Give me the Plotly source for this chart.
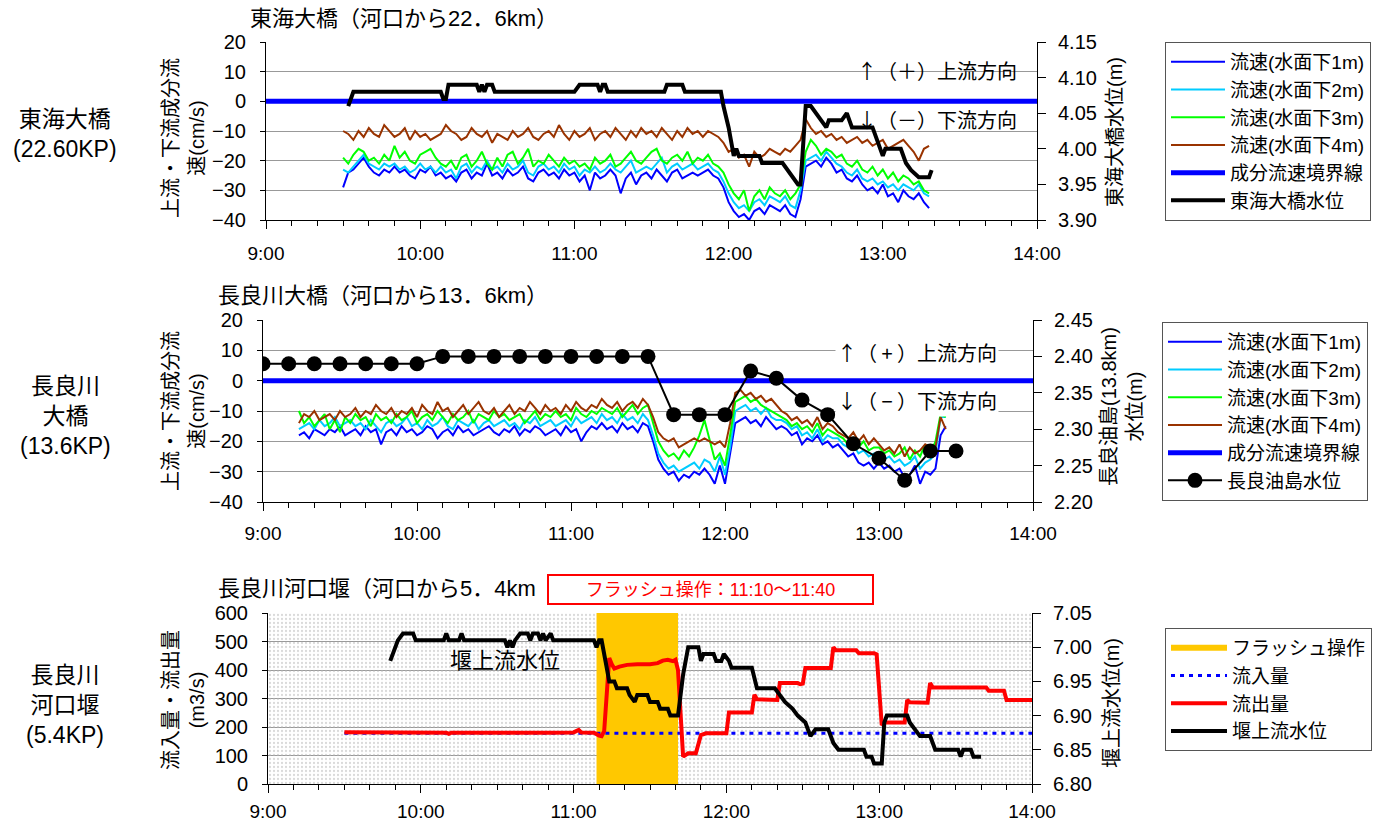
import pandas as pd
import plotly.graph_objects as go

DAY = "2000-01-01 "


def hm(s):
    return DAY + s + ":00"


# ---------------- 東海大橋 (22.6 km) ----------------
tokai_start, tokai_end = "09:30", "13:18"          # 2-minute samples
tokai_v1 = [-29, -24, -23, -21, -19, -22, -24, -25, -23, -24,
            -22, -24, -23, -25, -26, -23, -24, -22, -25, -24,
            -26, -25, -27, -24, -23, -26, -24, -25, -21, -25,
            -24, -26, -23, -25, -24, -22, -26, -27, -24, -23,
            -25, -24, -26, -23, -25, -24, -27, -25, -30, -24,
            -26, -25, -23, -25, -31, -26, -24, -28, -25, -24,
            -26, -23, -25, -27, -24, -23, -26, -25, -24, -25,
            -24, -23, -25, -26,
            -29, -34, -37, -39, -38, -40, -37, -36, -38, -35, -36, -37, -35, -38, -39, -33,
            -22, -21, -20, -22, -19, -21, -24, -23, -26, -27,
            -25, -28, -30, -29, -31, -28, -32, -31, -34, -30,
            -32, -33, -31, -34, -36]
tokai_v2 = [-23, -24, -22, -20, -18, -21, -22, -23, -21, -22,
            -21, -23, -22, -24, -23, -21, -23, -22, -24, -22,
            -24, -23, -26, -22, -21, -24, -22, -23, -20, -23,
            -22, -24, -21, -23, -22, -20, -24, -25, -22, -21,
            -23, -22, -24, -21, -23, -22, -25, -23, -24, -22,
            -24, -23, -21, -23, -24, -22, -20, -24, -23, -22,
            -23, -21, -19, -24, -22, -21, -23, -22, -21, -23,
            -22, -21, -23, -24,
            -27, -31, -34, -36, -35, -37, -34, -33, -35, -32, -33, -34, -32, -35, -36, -30,
            -20, -19, -18, -20, -17, -19, -21, -22, -24, -25,
            -23, -26, -27, -26, -28, -27, -29, -28, -30, -28,
            -29, -30, -28, -31, -32]
tokai_v3 = [-19, -21, -18, -16, -17, -20, -19, -21, -18, -20,
            -15, -19, -17, -20, -21, -18, -17, -16, -19, -21,
            -22, -20, -23, -19, -18, -22, -20, -17, -21, -23,
            -19, -22, -18, -17, -21, -19, -16, -22, -20, -21,
            -18, -20, -22, -19, -21, -20, -22, -21, -23, -19,
            -21, -20, -18, -22, -21, -19, -17, -20, -21, -19,
            -17, -16, -20, -21, -19, -18, -20, -17, -21, -19,
            -20, -18, -21, -22,
            -24, -28, -31, -33, -30, -37, -32, -30, -33, -29, -31, -32, -30, -33, -31, -28,
            -17, -13, -15, -18, -16, -17, -19, -18, -21, -22,
            -20, -23, -24, -22, -25, -23, -26, -24, -27, -25,
            -26, -28, -27, -30, -31]
tokai_v4 = [-10, -11, -13, -10, -12, -9, -11, -12, -8, -10,
            -12, -11, -9, -13, -10, -12, -11, -13, -12, -11,
            -8, -10, -11, -13, -12, -9, -11, -12, -10, -14,
            -11, -12, -13, -10, -12, -11, -9, -12, -13, -11,
            -10, -12, -8, -11, -13, -10, -12, -11, -9, -13,
            -11, -10, -12, -9, -11, -13, -10, -12, -9, -11,
            -10, -12, -9, -11, -13, -10, -12, -9, -11, -10,
            -12, -10, -11, -12,
            -14, -17, -16, -19, -18, -22, -17, -19, -18, -16, -17, -18, -16, -17, -15, -13,
            -6, -9, -11, -10, -12, -11, -13, -12, -14, -13,
            -12, -14, -13, -15, -14, -13, -16, -15, -14, -13,
            -15, -17, -20, -16, -15]
tokai_level_time = ["09:32", "09:34", "10:08", "10:09", "10:10", "10:11", "10:22", "10:23",
                    "10:24", "10:25", "10:26", "10:28", "10:29", "11:00", "11:02", "11:09",
                    "11:10", "11:11", "11:12", "11:13", "11:35", "11:36", "11:42", "11:43",
                    "11:57", "11:58", "12:00", "12:02", "12:03", "12:04", "12:12", "12:13",
                    "12:21", "12:23", "12:25", "12:27", "12:28", "12:29", "12:30", "12:32",
                    "12:34", "12:38", "12:39", "12:44", "12:46", "12:48", "12:56", "13:00",
                    "13:01", "13:07", "13:09", "13:11", "13:14", "13:18", "13:19"]
tokai_level = [4.06, 4.08, 4.08, 4.07, 4.07, 4.09, 4.09, 4.08,
               4.09, 4.08, 4.09, 4.09, 4.08, 4.08, 4.09, 4.09,
               4.08, 4.09, 4.09, 4.08, 4.08, 4.09, 4.09, 4.08,
               4.08, 4.06, 4.03, 3.99, 4.00, 3.99, 3.99, 3.98,
               3.98, 3.97, 3.96, 3.95, 3.95, 4.01, 4.06, 4.06,
               4.05, 4.03, 4.04, 4.04, 4.05, 4.03, 4.03, 3.99,
               4.00, 4.00, 3.98, 3.97, 3.96, 3.96, 3.97]

# ---------------- 長良川大橋 (13.6 km) ----------------
nagara_start, nagara_end = "09:14", "13:26"        # 2-minute samples
nagara_v1 = [-18, -17, -19, -16, -17, -18, -16, -17, -15, -18,
             -17, -16, -18, -15, -17, -16, -21, -17, -16, -18,
             -15, -17, -16, -18, -17, -15, -16, -19, -17, -16,
             -18, -15, -17, -16, -18, -17, -16, -15, -17, -18,
             -16, -17, -15, -18, -16, -17, -15, -16, -18, -17,
             -16, -18, -15, -17, -16, -20, -17, -15, -16, -14,
             -16, -15, -17, -14, -16, -15, -17, -14, -15,
             -20, -26, -29, -31, -30, -33, -31, -32, -30, -31, -29, -31, -34, -28, -34, -24,
             -14, -13, -12, -14, -13, -15, -12, -14, -16,
             -15, -16, -18, -17, -21, -19, -20, -18, -21, -20, -22,
             -21, -23, -25, -24, -27, -28, -27, -29,
             -27, -29, -28, -30, -29, -32, -31, -28, -34, -30, -31,
             -29, -18, -15]
nagara_v2 = [-16, -15, -14, -16, -13, -15, -14, -12, -15, -14,
             -13, -15, -14, -16, -13, -15, -17, -14, -13, -15,
             -14, -12, -15, -14, -16, -13, -15, -14, -12, -15,
             -16, -13, -14, -15, -13, -16, -14, -13, -15, -14,
             -13, -15, -14, -16, -13, -14, -12, -15, -14, -13,
             -15, -14, -13, -15, -12, -14, -13, -12, -14, -11,
             -13, -12, -14, -11, -13, -12, -14, -11, -13,
             -18, -24, -27, -29, -28, -30, -29, -28, -27, -29, -26, -27, -30, -25, -31, -22,
             -10, -9, -8, -10, -9, -11, -9, -12, -13,
             -13, -14, -16, -15, -18, -17, -19, -16, -20, -18, -19,
             -19, -21, -22, -21, -24, -23, -25, -24,
             -24, -26, -25, -27, -26, -28, -27, -25, -29, -27, -26,
             -24, -12, -12]
nagara_v3 = [-10, -14, -12, -15, -13, -11, -16, -13, -17, -12,
             -14, -11, -13, -12, -15, -11, -13, -12, -14, -11,
             -13, -12, -10, -14, -12, -11, -13, -10, -12, -14,
             -11, -13, -12, -10, -14, -11, -12, -13, -10, -12,
             -11, -13, -12, -11, -14, -12, -10, -13, -11, -12,
             -10, -12, -11, -13, -9, -11, -12, -10, -11, -9,
             -10, -11, -9, -12, -10, -8, -11, -9, -8,
             -14, -20, -23, -25, -24, -26, -23, -25, -22, -18, -13, -20, -26, -24, -28, -18,
             -7, -6, -5, -7, -6, -8, -9, -10, -11,
             -12, -13, -15, -14, -16, -15, -17, -14, -18, -16, -17,
             -18, -19, -21, -19, -22, -20, -23, -22,
             -22, -24, -23, -25, -24, -22, -26, -23, -25, -21, -24,
             -20, -11, -12]
nagara_v4 = [-14, -11, -12, -10, -13, -12, -11, -13, -10, -12,
             -11, -9, -12, -10, -11, -8, -10, -11, -9, -12,
             -10, -11, -9, -12, -8, -10, -11, -7, -10, -9,
             -12, -10, -8, -11, -9, -7, -10, -11, -9, -12,
             -10, -8, -11, -9, -10, -7, -9, -11, -8, -10,
             -9, -11, -8, -10, -7, -9, -10, -8, -9, -6,
             -8, -9, -7, -10, -8, -7, -9, -6, -8,
             -12, -17, -19, -20, -19, -22, -21, -20, -19, -20, -19, -20, -21, -20, -22, -14,
             -4, -3, -5, -4, -6, -5, -7, -6, -8,
             -10, -11, -13, -12, -14, -13, -15, -12, -16, -14, -15,
             -17, -18, -19, -17, -20, -18, -21, -19,
             -21, -23, -22, -24, -21, -25, -22, -24, -23, -21, -22,
             -22, -12, -16]
aburajima_time = ["09:00", "09:10", "09:20", "09:30", "09:40", "09:50", "10:00",
                  "10:10", "10:20", "10:30", "10:40", "10:50", "11:00", "11:10",
                  "11:20", "11:30", "11:40", "11:50", "12:00", "12:10", "12:20",
                  "12:30", "12:40", "12:50", "13:00", "13:10", "13:20", "13:30"]
aburajima_level = [2.39, 2.39, 2.39, 2.39, 2.39, 2.39, 2.39,
                   2.40, 2.40, 2.40, 2.40, 2.40, 2.40, 2.40,
                   2.40, 2.40, 2.32, 2.32, 2.32, 2.38, 2.37,
                   2.34, 2.32, 2.28, 2.26, 2.23, 2.27, 2.27]

# ---------------- 長良川河口堰 (5.4 km) ----------------
flash_start, flash_end = "11:09", "11:41"
inflow_time = ["09:30", "14:00"]
inflow = [178, 178]
outflow_time = ["09:30", "09:45", "10:00", "10:10", "10:11", "10:12", "10:30", "10:48",
                "10:50", "10:52", "11:00", "11:02", "11:03", "11:08", "11:10", "11:11",
                "11:12", "11:13", "11:14", "11:15", "11:16", "11:18", "11:21", "11:25",
                "11:30", "11:33", "11:35", "11:37", "11:39", "11:40", "11:41", "11:43",
                "11:45", "11:48", "11:50", "11:52", "12:00", "12:01", "12:10", "12:11",
                "12:12", "12:20", "12:21", "12:28", "12:29", "12:30", "12:31", "12:41",
                "12:42", "12:43", "12:51", "12:52", "12:58", "12:59", "13:01", "13:02",
                "13:10", "13:11", "13:12", "13:19", "13:20", "13:21", "13:42", "13:43",
                "13:49", "13:50", "14:00"]
outflow = [182, 181, 180, 180, 176, 180, 180, 180,
           177, 180, 181, 190, 181, 180, 170, 168,
           185, 330, 442, 420, 405, 412, 418, 420,
           420, 424, 433, 436, 431, 436, 400, 96,
           108, 108, 172, 178, 178, 251, 251, 313,
           297, 295, 354, 354, 350, 352, 407, 407,
           480, 469, 469, 459, 459, 455, 207, 216,
           216, 295, 287, 285, 354, 339, 339, 327,
           327, 295, 295]
weir_level_time = ["09:48", "09:51", "09:53", "09:57", "09:58", "10:09", "10:10", "10:11",
                   "10:15", "10:16", "10:17", "10:33", "10:34", "10:35", "10:36", "10:37",
                   "10:39", "10:42", "10:43", "10:44", "10:46", "10:47", "10:48", "10:49",
                   "10:51", "10:52", "11:08", "11:09", "11:10", "11:11", "11:13", "11:14",
                   "11:16", "11:17", "11:21", "11:22", "11:24", "11:25", "11:29", "11:30",
                   "11:33", "11:34", "11:37", "11:38", "11:41", "11:43", "11:45", "11:49",
                   "11:50", "11:51", "11:55", "11:56", "11:58", "11:59", "12:01", "12:02",
                   "12:10", "12:12", "12:19", "12:21", "12:23", "12:26", "12:28", "12:31",
                   "12:33", "12:35", "12:40", "12:42", "12:44", "12:54", "12:55", "12:57",
                   "12:58", "13:01", "13:02", "13:03", "13:11", "13:12", "13:14", "13:16",
                   "13:20", "13:22", "13:31", "13:32", "13:33", "13:36", "13:37", "13:40"]
weir_level = [6.98, 7.01, 7.02, 7.02, 7.01, 7.01, 7.02, 7.01,
              7.01, 7.02, 7.01, 7.01, 7.00, 7.01, 7.00, 7.01,
              7.02, 7.02, 7.01, 7.02, 7.02, 7.01, 7.02, 7.01,
              7.02, 7.01, 7.01, 7.00, 7.01, 7.01, 6.97, 6.95,
              6.95, 6.94, 6.94, 6.93, 6.92, 6.93, 6.93, 6.92,
              6.92, 6.91, 6.91, 6.90, 6.90, 6.96, 7.00, 7.00,
              6.98, 6.99, 6.99, 6.98, 6.98, 6.99, 6.98, 6.97,
              6.97, 6.94, 6.94, 6.93, 6.92, 6.91, 6.90, 6.89,
              6.87, 6.88, 6.88, 6.86, 6.85, 6.85, 6.84, 6.84,
              6.83, 6.83, 6.89, 6.90, 6.90, 6.89, 6.88, 6.87,
              6.87, 6.85, 6.85, 6.84, 6.85, 6.85, 6.84, 6.84]

boundary = 0
depth_names = ["流速(水面下1m)", "流速(水面下2m)", "流速(水面下3m)", "流速(水面下4m)"]
depth_colors = ["#0000FF", "#00CCFF", "#00FF00", "#993300"]

# ---------------- layout helpers ----------------
W, H = 1389, 823
FONT = "Liberation Sans, Noto Sans CJK JP, sans-serif"
CJK = "Noto Sans CJK JP, sans-serif"


def fx(p):
    return p / W


def fy(p):
    return 1 - p / H


def times(lst):
    return [hm(s) for s in lst]


tokai_time = pd.date_range(hm(tokai_start), hm(tokai_end), freq="2min")
nagara_time = pd.date_range(hm(nagara_start), hm(nagara_end), freq="2min")
for arr in (tokai_v1, tokai_v2, tokai_v3, tokai_v4):
    assert len(arr) == len(tokai_time), len(arr)
for arr in (nagara_v1, nagara_v2, nagara_v3, nagara_v4):
    assert len(arr) == len(nagara_time), len(arr)
assert len(tokai_level) == len(tokai_level_time)
assert len(outflow) == len(outflow_time)
assert len(weir_level) == len(weir_level_time)

full_span = [hm("09:00"), hm("14:00")]
fig = go.Figure()

# ---- top panel ----
for name, vals, col in zip(depth_names, [tokai_v1, tokai_v2, tokai_v3, tokai_v4], depth_colors):
    fig.add_trace(go.Scatter(x=tokai_time, y=vals, mode="lines", name=name,
                             line=dict(color=col, width=2), xaxis="x", yaxis="y",
                             legend="legend", legendgroup="a" + name))
fig.add_trace(go.Scatter(x=full_span, y=[boundary, boundary], mode="lines", name="成分流速境界線",
                         line=dict(color="#0000FF", width=5), xaxis="x", yaxis="y",
                         legend="legend", legendgroup="a_b"))
fig.add_trace(go.Scatter(x=times(tokai_level_time), y=tokai_level, mode="lines", name="東海大橋水位",
                         line=dict(color="black", width=4), xaxis="x", yaxis="y4",
                         legend="legend", legendgroup="a_l"))

# ---- middle panel ----
for name, vals, col in zip(depth_names, [nagara_v1, nagara_v2, nagara_v3, nagara_v4], depth_colors):
    fig.add_trace(go.Scatter(x=nagara_time, y=vals, mode="lines", name=name,
                             line=dict(color=col, width=2), xaxis="x2", yaxis="y2",
                             legend="legend2", legendgroup="b" + name))
fig.add_trace(go.Scatter(x=full_span, y=[boundary, boundary], mode="lines", name="成分流速境界線",
                         line=dict(color="#0000FF", width=5), xaxis="x2", yaxis="y2",
                         legend="legend2", legendgroup="b_b"))
fig.add_trace(go.Scatter(x=times(aburajima_time), y=aburajima_level, mode="lines+markers",
                         name="長良油島水位", line=dict(color="black", width=2),
                         marker=dict(color="black", size=15), xaxis="x2", yaxis="y5",
                         legend="legend2", legendgroup="b_l"))

# ---- bottom panel ----
fig.add_trace(go.Scatter(x=[full_span[0], full_span[1], full_span[1], full_span[0]],
                         y=[0, 0, 600, 600], fill="toself", mode="lines",
                         line=dict(width=0), fillcolor="rgba(0,0,0,0)",
                         fillpattern=dict(shape=".", size=4, solidity=0.25,
                                          fgcolor="#b4b4b4", bgcolor="rgba(0,0,0,0)"),
                         showlegend=False, hoverinfo="skip", xaxis="x3", yaxis="y3"))
fig.add_trace(go.Scatter(x=[hm(flash_start), hm(flash_start), hm(flash_end), hm(flash_end)],
                         y=[0, 600, 600, 0], fill="toself", mode="lines",
                         line=dict(width=0, color="#FFC800"), fillcolor="#FFC800",
                         showlegend=False, hoverinfo="skip", xaxis="x3", yaxis="y3"))
fig.add_trace(go.Scatter(x=[None], y=[None], mode="lines", name="フラッシュ操作",
                         line=dict(color="#FFC800", width=6), xaxis="x3", yaxis="y3",
                         legend="legend3", legendgroup="c_f"))
fig.add_trace(go.Scatter(x=times(inflow_time), y=inflow, mode="lines", name="流入量",
                         line=dict(color="#0000FF", width=3, dash="4px,5px"), xaxis="x3", yaxis="y3",
                         legend="legend3", legendgroup="c_i"))
fig.add_trace(go.Scatter(x=times(outflow_time), y=outflow, mode="lines", name="流出量",
                         line=dict(color="#FF0000", width=4), xaxis="x3", yaxis="y3",
                         legend="legend3", legendgroup="c_o"))
fig.add_trace(go.Scatter(x=times(weir_level_time), y=weir_level, mode="lines", name="堰上流水位",
                         line=dict(color="black", width=4), xaxis="x3", yaxis="y6",
                         legend="legend3", legendgroup="c_l"))

# ---- axes ----
tick_font = dict(family=FONT, size=20, color="black")
xtick_font = dict(family=FONT, size=19, color="black")


def xaxis(x0, x1, anchor, standoff):
    return dict(domain=[fx(x0), fx(x1)], anchor=anchor, type="date",
                range=full_span, tick0=hm("09:00"), dtick=3600000, tickformat="%-H:%M",
                ticks="outside", ticklen=8, tickcolor="black", showline=True,
                linecolor="black", linewidth=1, showgrid=False, zeroline=False,
                tickfont=xtick_font, ticklabelstandoff=standoff,
                minor=dict(dtick=600000, ticks="outside", ticklen=5, tickcolor="black",
                           showgrid=False))


def yleft(y0, y1, anchor, rng, dtick):
    return dict(domain=[fy(y1), fy(y0)], anchor=anchor, range=rng, dtick=dtick,
                ticks="outside", ticklen=5, tickcolor="black", showline=True,
                linecolor="black", linewidth=1, showgrid=True, gridcolor="#999999",
                gridwidth=1, zeroline=False, tickfont=tick_font, ticklabelstandoff=10)


def yright(over, anchor, rng):
    return dict(overlaying=over, anchor=anchor, side="right", range=rng, dtick=0.05,
                tickformat=".2f", ticks="outside", ticklen=8, tickcolor="black",
                showline=True, linecolor="black", linewidth=1, showgrid=False,
                zeroline=False, tickfont=tick_font, ticklabelstandoff=8)


legend_common = dict(xanchor="left", yanchor="top", bordercolor="#555555", borderwidth=1,
                     bgcolor="white", font=dict(family=FONT, size=19, color="black"),
                     traceorder="normal")

fig.update_layout(
    width=W, height=H, autosize=False,
    margin=dict(l=0, r=0, t=0, b=0, pad=0, autoexpand=False),
    paper_bgcolor="white", plot_bgcolor="white",
    font=dict(family=FONT, size=18, color="black"),
    xaxis=xaxis(266, 1037, "y", 8),
    yaxis=yleft(42, 220, "x", [-40, 20], 10),
    yaxis4=yright("y", "x", [3.90, 4.15]),
    xaxis2=xaxis(263, 1033, "y2", 6),
    yaxis2=yleft(320, 502, "x2", [-40, 20], 10),
    yaxis5=yright("y2", "x2", [2.20, 2.45]),
    xaxis3=xaxis(268, 1032, "y3", 2),
    yaxis3=yleft(613, 784, "x3", [0, 600], 100),
    yaxis6=yright("y3", "x3", [6.80, 7.05]),
    legend=dict(x=fx(1165), y=fy(42), itemwidth=54, tracegroupgap=13, **legend_common),
    legend2=dict(x=fx(1162), y=fy(322), itemwidth=54, tracegroupgap=12, **legend_common),
    legend3=dict(x=fx(1165), y=fy(628), itemwidth=56, tracegroupgap=13, **legend_common),
    showlegend=True,
)


def note(x, y, text, size=18, angle=0, xanchor="center", family=FONT, **kw):
    fig.add_annotation(x=fx(x), y=fy(y), xref="paper", yref="paper", text=text,
                       showarrow=False, textangle=angle, xanchor=xanchor, yanchor="middle",
                       font=dict(family=family, size=size, color=kw.pop("color", "black")), **kw)


# panel titles
note(248, 18, "東海大橋（河口から22．6km）", size=22, xanchor="left")
note(216, 295, "長良川大橋（河口から13．6km）", size=22, xanchor="left")
note(216, 588, "長良川河口堰（河口から5．4km", size=22, xanchor="left")
note(710, 589, "フラッシュ操作：11:10～11:40", size=18, color="#FF0000",
     bordercolor="#FF0000", borderwidth=2, bgcolor="white", width=321, height=25)

# station labels
note(65, 134, "東海大橋<br>(22.60KP)", size=23)
note(65, 416, "長良川<br>大橋<br>(13.6KP)", size=23)
note(65, 705, "長良川<br>河口堰<br>(5.4KP)", size=23)

# axis titles
note(184, 138, "上流・下流成分流<br>速(cm/s)", size=20, angle=-90)
note(184, 411, "上流・下流成分流<br>速(cm/s)", size=20, angle=-90)
note(184, 700, "流入量・流出量<br>(m3/s)", size=20, angle=-90)
note(1115, 132, "東海大橋水位(m)", size=20, angle=-90)
note(1122, 407, "長良油島(13.8km)<br>水位(m)", size=20, angle=-90)
note(1112, 703, "堰上流水位(m)", size=20, angle=-90)

# flow-direction notes
note(937, 71, "↑（＋）上流方向", size=20, family=CJK)
note(937, 119, "↓（－）下流方向", size=20, family=CJK)
note(917, 352, "↑（ + ）上流方向", size=20, family=CJK, bgcolor="white")
note(917, 400, "↓（ − ）下流方向", size=20, family=CJK, bgcolor="white")
note(505, 660, "堰上流水位", size=22)

fig.write_html("out.html")
